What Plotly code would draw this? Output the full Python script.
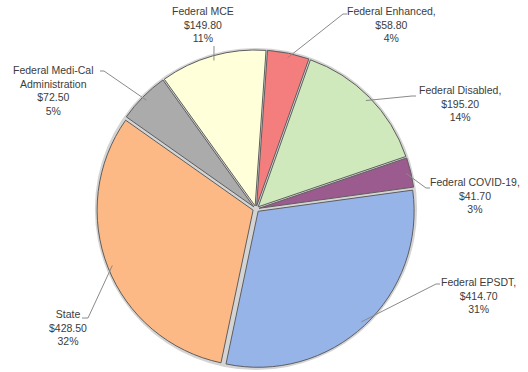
import math
import plotly.graph_objects as go

# Funding sources, listed clockwise from the top of the pie
labels = ["Federal Enhanced", "Federal Disabled", "Federal COVID-19", "Federal EPSDT",
          "State", "Federal Medi-Cal Administration", "Federal MCE"]
values = [58.80, 195.20, 41.70, 414.70, 428.50, 72.50, 149.80]
percents = ["4%", "14%", "3%", "31%", "32%", "5%", "11%"]
label_text = ["Federal Enhanced,", "Federal Disabled,", "Federal COVID-19,", "Federal EPSDT,",
              "State", "Federal Medi-Cal<br>Administration", "Federal MCE"]
colors = ["#F47E7E", "#CFE8BC", "#9B5B8E", "#97B4E9", "#FDB985", "#ABABAB", "#FFFFDA"]

# Page geometry (pixels)
W, H = 528, 372
CX, CY, R = 256, 209, 156
PULL = 0.02
ROT = 4  # start angle of the first slice, degrees clockwise from 12 o'clock

# Label placement (pixel centre of the text block) and the elbow point of each leader line
label_pos = [(391, 25), (460, 104), (475, 195), (478, 295), (68, 327), (53, 90), (203, 25)]
elbow_pts = [[(347, 14), (343, 14)], [(416, 96), (412, 96)], [(430, 188), (426, 188)],
             [(440, 284), (436, 284)], [(82, 318), (88, 318)], [(100, 71), (104, 71)],
             [(214, 46)]]


def px(x):
    return x / W


def py(y):
    return 1 - y / H


half = R * (1 + PULL)
fig = go.Figure()

# soft grey rim behind the slices
rim = half + 2
fig.add_trace(go.Pie(
    values=[1], sort=False, textinfo="none", hoverinfo="skip", showlegend=False,
    marker=dict(colors=["#d4d4d4"], line=dict(width=0)),
    domain=dict(x=[px(CX - rim), px(CX + rim)], y=[py(CY + rim), py(CY - rim)]),
))

fig.add_trace(go.Pie(
    labels=labels, values=values, sort=False, direction="clockwise", rotation=ROT,
    pull=[PULL] * len(values),
    marker=dict(colors=colors, line=dict(color="#5e5e5e", width=1)),
    textinfo="none", hoverinfo="label+value+percent", showlegend=False,
    domain=dict(x=[px(CX - half), px(CX + half)], y=[py(CY + half), py(CY - half)]),
))

total = sum(values)
annotations = []
shapes = []
start = ROT
for i, v in enumerate(values):
    sweep = v / total * 360
    mid = math.radians(start + sweep / 2)
    start += sweep
    # anchor just inside the slice rim, at the slice's mid angle
    rr = R * (1 + PULL) * 0.97
    ax = CX + rr * math.sin(mid)
    ay = CY - rr * math.cos(mid)
    tx, ty = label_pos[i]
    annotations.append(dict(
        x=px(tx), y=py(ty), xref="paper", yref="paper", showarrow=False,
        text=f"{label_text[i]}<br>${v:.2f}<br>{percents[i]}",
        font=dict(family="Liberation Sans, Arial, sans-serif", size=10.5, color="#3c3c3c"),
        align="center", xanchor="center", yanchor="middle",
    ))
    pts = elbow_pts[i] + [(ax, ay)]
    path = "M " + " L ".join(f"{px(x)},{py(y)}" for x, y in pts)
    shapes.append(dict(type="path", xref="paper", yref="paper", path=path,
                       line=dict(color="#8a8a8a", width=1)))

fig.update_layout(
    width=W, height=H, margin=dict(l=0, r=0, t=0, b=0),
    paper_bgcolor="white", plot_bgcolor="white",
    annotations=annotations, shapes=shapes,
)
fig.write_html("out.html")
